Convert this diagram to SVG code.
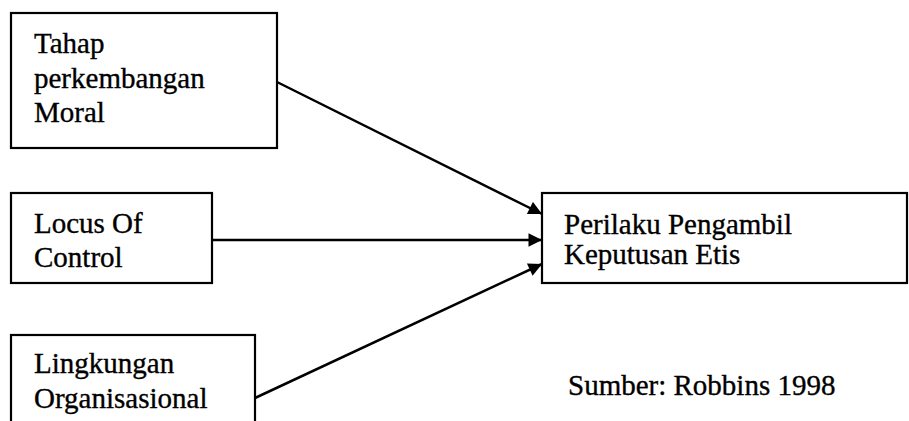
<svg xmlns="http://www.w3.org/2000/svg" width="909" height="421" viewBox="0 0 909 421">
  <style>
    .box { fill: #fff; stroke: #000; stroke-width: 2.2; }
    .lbl { font-family: "Liberation Serif", "Times New Roman", serif; font-size: 29px; fill: #000; stroke: #000; stroke-width: 0.35; }
    .edge { stroke: #000; stroke-width: 2.5; fill: none; marker-end: url(#arrow); }
  </style>
  <defs>
    <marker id="arrow" viewBox="0 0 10 10" refX="10" refY="5" markerWidth="6.4" markerHeight="5.4" markerUnits="strokeWidth" orient="auto">
      <path d="M0,0 L10,5 L0,10 z" fill="#000"/>
    </marker>
  </defs>
  <rect width="909" height="421" fill="#fff"/>

  <g id="connectors">
    <line class="edge" x1="277" y1="82" x2="542" y2="214"/>
    <line class="edge" x1="212" y1="240" x2="542" y2="240"/>
    <line class="edge" x1="255" y1="398" x2="542" y2="264"/>
  </g>

  <g id="node-tahap">
    <rect class="box" x="11" y="13" width="266" height="135"/>
    <text class="lbl" x="34" y="53">Tahap</text>
    <text class="lbl" x="34" y="88">perkembangan</text>
    <text class="lbl" x="34" y="122">Moral</text>
  </g>

  <g id="node-locus">
    <rect class="box" x="11" y="193" width="201" height="90"/>
    <text class="lbl" x="34" y="233">Locus Of</text>
    <text class="lbl" x="34" y="267">Control</text>
  </g>

  <g id="node-lingkungan">
    <rect class="box" x="11" y="335" width="244" height="100"/>
    <text class="lbl" x="34" y="373">Lingkungan</text>
    <text class="lbl" x="34" y="408">Organisasional</text>
  </g>

  <g id="node-perilaku">
    <rect class="box" x="542" y="193" width="365" height="90"/>
    <text class="lbl" x="564" y="234">Perilaku Pengambil</text>
    <text class="lbl" x="564" y="264">Keputusan Etis</text>
  </g>

  <text class="lbl" x="568" y="395">Sumber: Robbins 1998</text>
</svg>
